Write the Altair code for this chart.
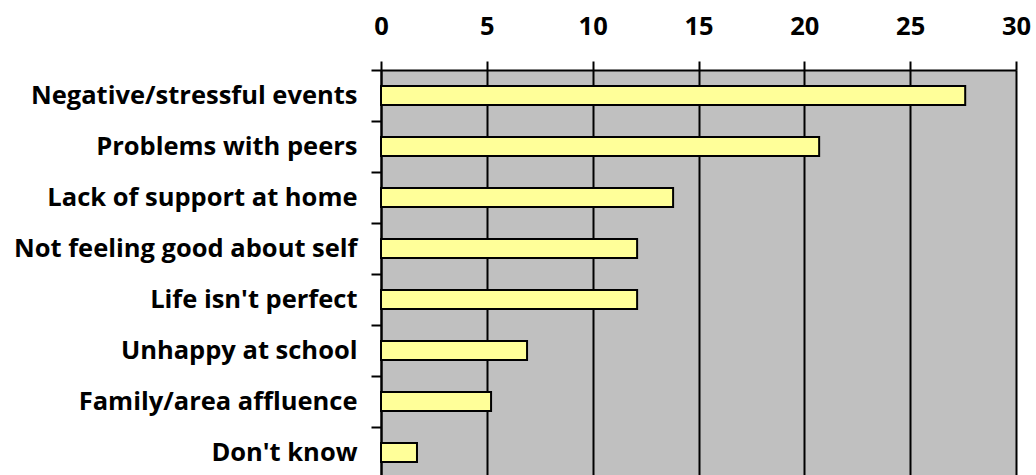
import altair as alt
import pandas as pd

# Reported causes and the share of responses for each
causes = [
    "Negative/stressful events",
    "Problems with peers",
    "Lack of support at home",
    "Not feeling good about self",
    "Life isn't perfect",
    "Unhappy at school",
    "Family/area affluence",
    "Don't know",
]
percent = [27.6, 20.7, 13.8, 12.1, 12.1, 6.9, 5.2, 1.7]
x_ticks = [0, 5, 10, 15, 20, 25, 30]

df = pd.DataFrame({"cause": causes, "percent": percent})

FONT = "Open Sans"
SIZE = 25.5

chart = (
    alt.Chart(df)
    .mark_bar(size=19, fill="#FFFF99", stroke="black", strokeWidth=2)
    .encode(
        x=alt.X(
            "percent:Q",
            scale=alt.Scale(domain=[0, 30], nice=False, zero=True),
            axis=alt.Axis(
                orient="top",
                values=x_ticks,
                title=None,
                grid=True,
                gridColor="black",
                gridWidth=2,
                gridOpacity=1,
                domainColor="black",
                domainWidth=2,
                tickColor="black",
                tickWidth=2,
                tickSize=9,
                labelPadding=22,
                labelFlush=False,
                labelOverlap=False,
                labelFont=FONT,
                labelFontSize=SIZE,
                labelFontWeight="bold",
                labelColor="black",
            ),
        ),
        y=alt.Y(
            "cause:N",
            sort=causes,
            scale=alt.Scale(paddingInner=0, paddingOuter=0),
            axis=alt.Axis(
                title=None,
                bandPosition=0,
                domainColor="black",
                domainWidth=2,
                tickColor="black",
                tickWidth=2,
                tickSize=10,
                labelPadding=14,
                labelOverlap=False,
                labelFont=FONT,
                labelFontSize=SIZE,
                labelFontWeight="bold",
                labelColor="black",
                labelLimit=400,
            ),
        ),
    )
    .properties(
        width=635,
        height=408,
        padding={"left": 381, "top": 70, "right": 20, "bottom": 0},
        autosize=alt.AutoSizeParams(type="none"),
    )
    .configure_view(fill="#C0C0C0", stroke="#808080", strokeWidth=1)
)

chart.save("out.html", embed_options={"renderer": "svg", "actions": False})
